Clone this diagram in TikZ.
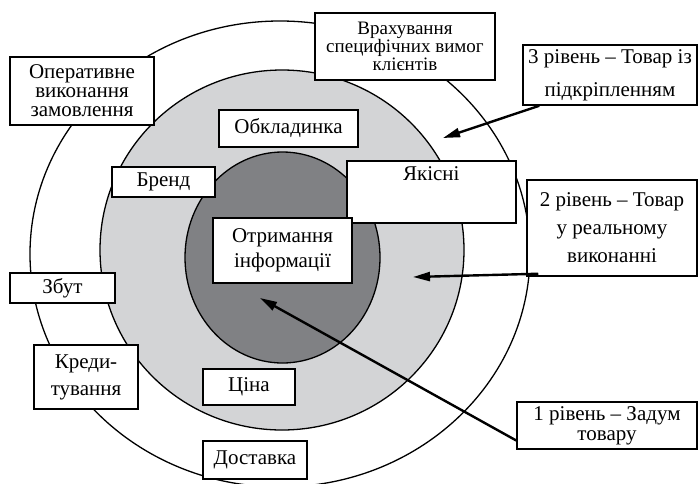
\documentclass[tikz,border=0pt]{standalone}
\usepackage{fontspec}
\setmainfont{Liberation Serif}
\usepackage{xcolor}
\usetikzlibrary{arrows.meta}
\definecolor{ringgray}{RGB}{211,212,214}
\definecolor{coregray}{RGB}{128,129,132}

\begin{document}
\begin{tikzpicture}[x=1pt, y=-1pt,
    box/.style={draw, fill=white, line width=1.5pt, inner sep=0pt, align=center,
        font=\fontsize{21}{19}\selectfont},
    ring/.style={draw, line width=1.3pt},
    pointer/.style={line width=2.4pt, -{Triangle[length=17pt,width=9pt]}}]
    \clip (0,0) rectangle (698,483);

    % Levels of the product
    \draw[ring, fill=white] (280,254) ellipse [x radius=250, y radius=233];
    \draw[ring, fill=ringgray] (282,250) ellipse [x radius=182, y radius=180];
    \draw[ring, fill=coregray] (282.5,257.5) ellipse [x radius=97.5, y radius=105.5];

    % Elements of the levels
    \node[box, minimum width=144pt, minimum height=68pt] (oper) at (82,91) {Оперативне\\виконання\\замовлення};
    \node[box, minimum width=180pt, minimum height=67pt, font=\fontsize{19}{18}\selectfont] (vrakh) at (405,46.5) {Врахування\\специфічних вимог\\клієнтів};
    \node[box, minimum width=139pt, minimum height=37pt] (obkl) at (288.5,128.5) {Обкладинка};
    \node[box, minimum width=103pt, minimum height=30pt] (brend) at (163.5,182) {Бренд};
    \node[box, anchor=north west, minimum width=169pt, text height=20pt, text depth=42pt] (yakisni) at (346,160) {Якісні};
    \node[box, minimum width=139pt, minimum height=65pt, font=\fontsize{21}{25}\selectfont] (otrym) at (282.5,250.5) {Отримання\\інформації};
    \node[box, minimum width=105pt, minimum height=30pt] (zbut) at (62.5,288) {Збут};
    \node[box, minimum width=104pt, minimum height=64pt, font=\fontsize{21}{27}\selectfont] (kred) at (86,377) {Креди-\\тування};
    \node[box, minimum width=92pt, minimum height=36pt] (tsina) at (249,387) {Ціна};
    \node[box, minimum width=104pt, minimum height=38pt] (dost) at (255,460) {Доставка};

    % Level captions
    \node[box, minimum width=174pt, minimum height=60pt, font=\fontsize{21}{33}\selectfont] (lvlthree) at (610,75) {3 рівень -- Товар із\\підкріпленням};
    \node[box, minimum width=170pt, minimum height=96pt, font=\fontsize{21}{28}\selectfont] (lvltwo) at (612,228) {2 рівень -- Товар\\у реальному\\виконанні};
    \node[box, minimum width=180pt, minimum height=47pt, font=\fontsize{21}{20}\selectfont] (lvlone) at (607,425.5) {1 рівень -- Задум\\товару};

    % Pointers into the rings
    \coordinate (tipthree) at (443,138);
    \coordinate (tiptwo) at (413,277);
    \coordinate (tipone) at (260,298);
    \draw[pointer] ([xshift=17pt]lvlthree.south west) -- (tipthree);
    \draw[pointer] ([xshift=12pt,yshift=3pt]lvltwo.south west) -- (tiptwo);
    \draw[pointer] ([yshift=-15pt]lvlone.west) -- (tipone);
\end{tikzpicture}
\end{document}
